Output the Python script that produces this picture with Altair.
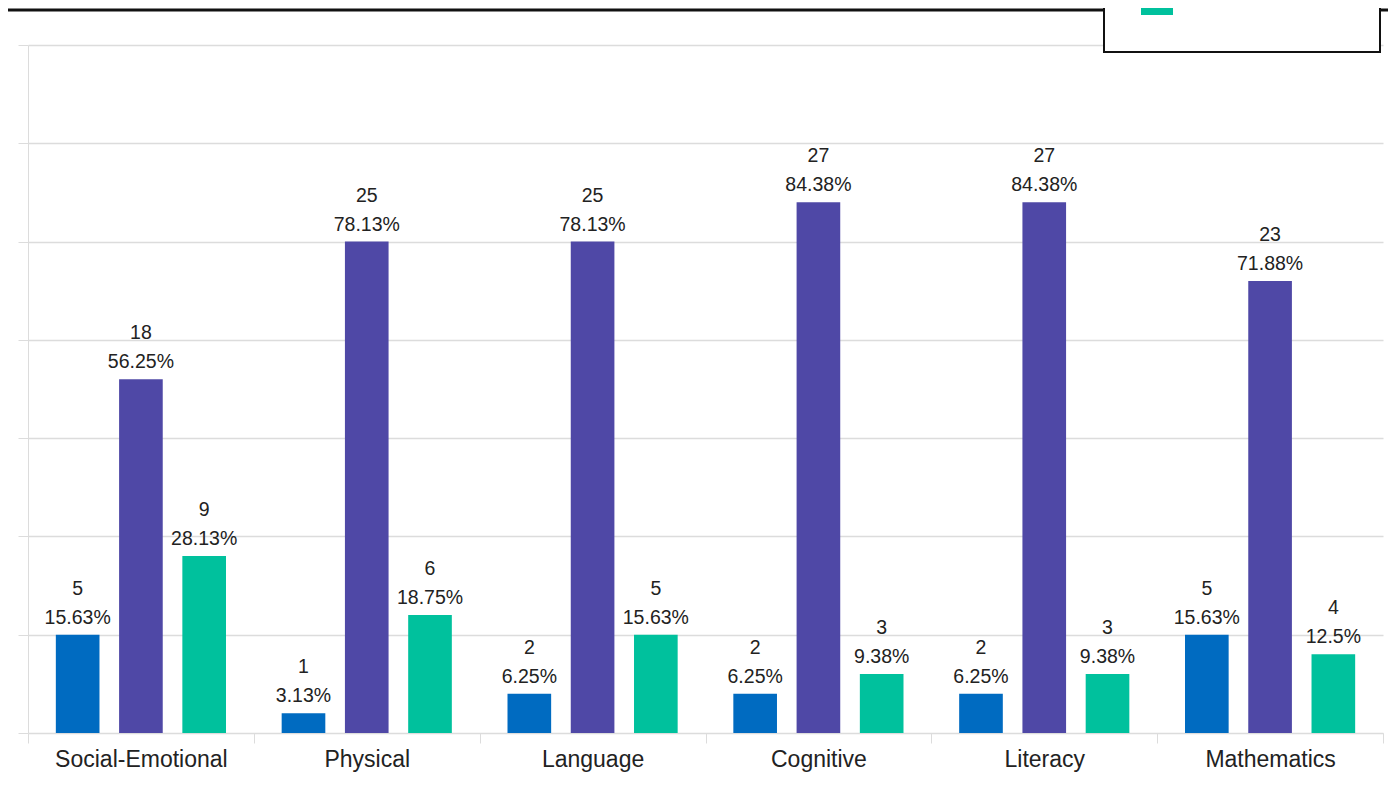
import altair as alt
import pandas as pd

categories = ["Social-Emotional", "Physical", "Language", "Cognitive", "Literacy", "Mathematics"]
series = ["Below Expectations", "Meets Expectations", "Exceeds Expectations"]
below_counts = [5, 1, 2, 2, 2, 5]
meets_counts = [18, 25, 25, 27, 27, 23]
exceeds_counts = [9, 6, 5, 3, 3, 4]
below_pct = ["15.63%", "3.13%", "6.25%", "6.25%", "6.25%", "15.63%"]
meets_pct = ["56.25%", "78.13%", "78.13%", "84.38%", "84.38%", "71.88%"]
exceeds_pct = ["28.13%", "18.75%", "15.63%", "9.38%", "9.38%", "12.5%"]
colors = ["#006BC1", "#4F48A6", "#00C19D"]
y_ticks = [0, 5, 10, 15, 20, 25, 30, 35]

rows = []
for s, counts, pcts in zip(series, [below_counts, meets_counts, exceeds_counts],
                           [below_pct, meets_pct, exceeds_pct]):
    for c, n, p in zip(categories, counts, pcts):
        rows.append({"category": c, "series": s, "count": n, "label": f"{n}\n{p}"})
df = pd.DataFrame(rows)

FONT = "Liberation Sans"
GRID = "#dcdcdc"

x_enc = alt.X(
    "category:N", sort=categories, title=None,
    scale=alt.Scale(paddingInner=0, paddingOuter=0),
    axis=alt.Axis(labelAngle=0, labelFont=FONT, labelFontSize=23, labelColor="#222222",
                  labelPadding=5, tickBand="extent", tickSize=10, tickColor=GRID,
                  domainColor=GRID, grid=False),
)
xo_enc = alt.XOffset("series:N", sort=series,
                     scale=alt.Scale(paddingInner=0.31, paddingOuter=0.44))
y_enc = alt.Y(
    "count:Q", title=None,
    scale=alt.Scale(domain=[0, 35], nice=False),
    axis=alt.Axis(values=y_ticks, labels=False, tickSize=10, tickColor=GRID,
                  domainColor=GRID, gridColor=GRID, gridWidth=1.3),
)

base = alt.Chart(df)

bars = base.mark_bar().encode(
    x=x_enc, xOffset=xo_enc, y=y_enc,
    color=alt.Color(
        "series:N", sort=series,
        scale=alt.Scale(domain=series, range=colors),
        legend=alt.Legend(
            title=None, orient="none", legendX=1076, legendY=-183,
            symbolType="square", symbolSize=1024, symbolStrokeWidth=0,
            labelFont=FONT, labelFontSize=15.6, labelFontWeight="bold",
            labelColor="#111111", labelOffset=5, labelLimit=400,
            padding=37, rowPadding=10,
            fillColor="white", strokeColor="#111111",
        ),
    ),
)

labels = base.mark_text(
    baseline="bottom", dy=-36, lineBreak="\n", lineHeight=29,
    font=FONT, fontSize=19.5, color="#222222",
).encode(x=x_enc, xOffset=xo_enc, y=y_enc, text="label:N")

top_line = alt.Chart(alt.Data(values=[{}])).mark_rule(
    color="#111111", strokeWidth=3
).encode(x=alt.value(-20), x2=alt.value(1380), y=alt.value(-35))

chart = alt.layer(top_line, bars, labels).properties(
    width=1355, height=688,
    autosize=alt.AutoSizeParams(type="none"),
    padding={"left": 20, "top": 37, "right": 5, "bottom": 60},
).configure_view(stroke=None).configure_legend(strokeWidth=2)

chart.save("out.html", embed_options={"renderer": "svg", "actions": False})
